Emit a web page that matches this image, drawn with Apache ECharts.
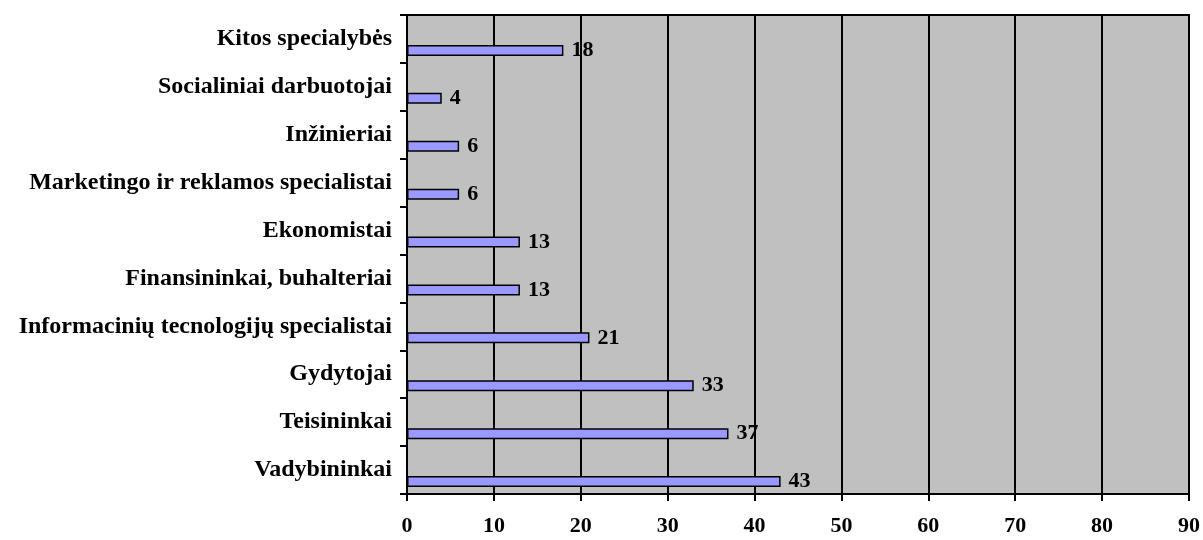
<!DOCTYPE html>
<html><head><meta charset="utf-8">
<script src="https://cdn.jsdelivr.net/npm/echarts@6/dist/echarts.min.js"></script>
<style>html,body{margin:0;padding:0;background:#fff}#c{width:1203px;height:540px}</style>
</head><body><div id="c"></div>
<script>
const categories = ["Vadybininkai","Teisininkai","Gydytojai","Informacinių tecnologijų specialistai","Finansininkai, buhalteriai","Ekonomistai","Marketingo ir reklamos specialistai","Inžinieriai","Socialiniai darbuotojai","Kitos specialybės"];
const values = [43,37,33,21,13,13,6,6,4,18];
const placeholder = categories.map(() => null);
const font = "'Liberation Serif','Times New Roman',serif";
const chart = echarts.init(document.getElementById('c'));
chart.setOption({
  animation:false,
  grid:{left:407,right:12,top:15,bottom:46,show:true,backgroundColor:'#C0C0C0',borderColor:'#000',borderWidth:2},
  xAxis:{type:'value',min:0,max:90,interval:10,
    axisLine:{show:true,lineStyle:{color:'#000',width:2}},
    axisTick:{show:true,length:7,lineStyle:{color:'#000',width:2}},
    splitLine:{show:true,lineStyle:{color:'#000',width:2}},
    axisLabel:{color:'#000',fontFamily:font,fontWeight:'bold',fontSize:22,margin:21}},
  yAxis:{type:'category',data:categories,boundaryGap:true,
    axisLine:{show:true,lineStyle:{color:'#000',width:2}},
    axisTick:{show:true,length:7,lineStyle:{color:'#000',width:2}},
    axisLabel:{color:'#000',fontFamily:font,fontWeight:'bold',fontSize:24,margin:15,verticalAlign:'middle'}},
  series:[
    {type:'bar',data:placeholder,barWidth:11,silent:true},
    {type:'bar',data:values,barWidth:11,barGap:'109%',
      itemStyle:{color:'#9999FF',borderColor:'#000',borderWidth:1.5},
      label:{show:true,position:'right',distance:8,color:'#000',fontFamily:font,fontWeight:'bold',fontSize:22}}
  ]
});
</script></body></html>
